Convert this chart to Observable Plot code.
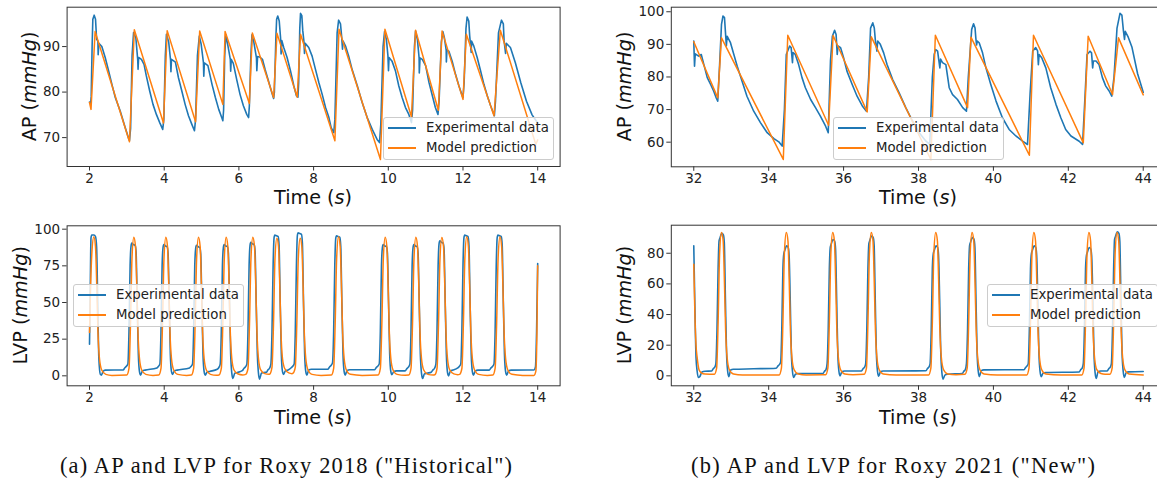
<!DOCTYPE html>
<html><head><meta charset="utf-8">
<script src="https://cdn.jsdelivr.net/npm/d3@7"></script>
<script src="https://cdn.jsdelivr.net/npm/@observablehq/plot@0.6"></script>
<style>
html,body{margin:0;padding:0;background:#fff;overflow:hidden;width:1157px;height:483px;}
#page{position:relative;width:1157px;height:483px;overflow:hidden;background:#fff;}
.legend{position:absolute;box-sizing:border-box;border:1px solid #cccccc;border-radius:3px;background:rgba(255,255,255,0.8);font-family:"DejaVu Sans";font-size:13.3px;color:#222;}
.legend .h{position:absolute;height:2px;width:28px;}
.legend .t{position:absolute;white-space:nowrap;line-height:16px;}
</style></head><body><div id="page"></div>
<script>
// ---------- DATA ----------
const seriesNames = ["Experimental data", "Model prediction"];
const captionA = '(a) AP and LVP for Roxy 2018 ("Historical")';
const captionB = '(b) AP and LVP for Roxy 2021 ("New")';
const xTicksA = [2,4,6,8,10,12,14];
const xTicksB = [32,34,36,38,40,42,44];
const apTicksA = [70,80,90];
const lvpTicksA = [0,25,50,75,100];
const apTicksB = [60,70,80,90,100];
const lvpTicksB = [0,20,40,60,80];

// AP, Roxy 2018 – experimental [time s, mmHg]
const apExpA = [
[2.0,77.8],[2.03,77.5],[2.045,79],[2.07,90],[2.089,96],[2.125,96.9],[2.161,96],[2.19,91.6],[2.225,91.2],[2.232,88.2],[2.25,90.7],[2.33,90],[2.42,87.6],[2.51,84.7],[2.6,81.7],[2.69,78.8],[2.82,75.9],[2.955,72.2],[3.04,70],[3.07,69.4],
[3.1,72],[3.14,88],[3.18,93.1],[3.24,92],[3.29,87.2],[3.30,85],[3.315,87.6],[3.39,87.2],[3.46,86.1],[3.52,83.6],[3.61,80.3],[3.7,77.3],[3.79,75.1],[3.88,73.3],[3.96,71.8],
[3.99,74],[4.03,88],[4.06,92.7],[4.12,91],[4.17,87],[4.18,84.5],[4.195,87.2],[4.3,86.6],[4.38,83.2],[4.47,80.3],[4.56,77.3],[4.65,74.8],[4.74,72.9],[4.81,71.5],
[4.84,74],[4.89,88],[4.94,92.3],[4.99,90.5],[5.05,86.5],[5.06,83.5],[5.075,86.4],[5.17,85.8],[5.28,81.7],[5.37,78.8],[5.46,76.2],[5.54,74.4],[5.57,73.7],
[5.59,76],[5.62,88],[5.65,92.6],[5.7,90.5],[5.77,87.2],[5.78,84.6],[5.795,87.2],[5.85,86.3],[5.94,82.8],[6.03,79.5],[6.12,77],[6.21,75.1],[6.26,74.4],
[6.28,77],[6.32,88],[6.35,92.6],[6.4,91],[6.47,87.5],[6.48,84.7],[6.5,87.8],[6.56,87.7],[6.63,87.2],[6.7,85],[6.79,82.5],[6.88,79.9],[6.93,78.6],
[6.95,80],[6.99,92],[7.01,96],[7.04,96.7],[7.08,95.6],[7.115,92],[7.13,88.4],[7.15,91.3],[7.2,89.8],[7.29,87.6],[7.38,84.7],[7.47,81.4],[7.54,79.2],[7.58,78.9],
[7.6,82],[7.63,94],[7.65,97.3],[7.685,96.8],[7.71,93.5],[7.74,91.2],[7.756,88.5],[7.775,90.7],[7.87,89.8],[7.96,87.9],[8.05,85],[8.14,82.1],[8.23,79.5],[8.32,76.6],[8.41,74.4],[8.47,72.2],[8.54,71.1],
[8.57,74],[8.63,93],[8.67,95.8],[8.72,95],[8.75,92.3],[8.774,89.4],[8.79,91.2],[8.855,90.1],[8.94,87.9],[9.03,85],[9.17,81.4],[9.3,77.7],[9.435,74.4],[9.57,71.8],[9.7,69.6],[9.765,68.9],
[9.8,73],[9.86,90],[9.9,93.3],[9.95,91.5],[9.99,88],[10.005,84.7],[10.02,87.6],[10.1,86.8],[10.19,84.7],[10.28,81.4],[10.37,78.8],[10.46,76.6],[10.55,75.1],[10.62,73.3],
[10.65,76],[10.7,90],[10.73,93.4],[10.78,91.5],[10.825,87.5],[10.83,84.2],[10.85,87.5],[10.91,87.2],[11.0,85.8],[11.09,82.1],[11.18,79.2],[11.26,76.6],[11.33,75.1],
[11.36,78],[11.42,91],[11.46,93.3],[11.5,92],[11.55,89.2],[11.555,86.6],[11.57,89.2],[11.62,89],[11.71,86.8],[11.8,83.9],[11.89,81.4],[11.98,79.2],[12.0,78.8],
[12.03,82],[12.08,94],[12.11,96.5],[12.155,95.6],[12.18,92.3],[12.22,88.7],[12.23,91.2],[12.29,90.1],[12.38,87.6],[12.47,84.7],[12.56,81.7],[12.65,79.2],[12.74,77],[12.84,74.8],
[12.87,78],[12.95,93],[13.03,95.8],[13.08,95],[13.1,91.3],[13.14,88.5],[13.16,90.7],[13.27,89.8],[13.4,86.5],[13.55,82],[13.7,78],[13.85,75],[14.0,73.2]
];
// AP, Roxy 2018 – model
const apModA = [
[2.0,77.7],[2.04,76.2],[2.15,93.3],[3.07,69.1],[3.2,93.7],[3.98,73.2],[4.08,93.5],[4.84,73.5],[4.95,93.4],[5.57,77.3],[5.63,93.3],[6.28,77.5],[6.36,93],[6.93,78.8],[7.02,92.9],[7.56,78.9],[7.65,92.7],[8.57,69.3],[8.68,93.8],[9.79,65.2],[9.91,93.8],[10.62,74.6],[10.73,93.6],[11.34,76],[11.44,93.4],[12.0,78.4],[12.09,92.7],[12.83,74.8],[13.0,93.6],[13.95,68.5],[14.0,69.5]
];
// LVP, Roxy 2018 – experimental
const lvpExpA = [
[2.0,21.6],[2.02,60],[2.04,94],[2.06,96],[2.12,96],[2.16,95],[2.19,88],[2.22,50],[2.25,12],[2.29,1],[2.32,0.5],[2.36,3],[2.42,3.9],[2.9,4],
[2.947,5.5],[2.987,6.5],[3.027,8],[3.057,30],[3.087,75],[3.112,88.5],[3.132,90.5],[3.177,89.5],[3.222,89],[3.247,84.5],[3.277,50],[3.307,15],[3.337,3],[3.367,0.5],[3.417,3.4],[3.487,3.9],
[3.804,5.4],[3.844,6.4],[3.884,8],[3.914,30],[3.944,75],[3.969,87.5],[3.989,89.5],[4.034,88.5],[4.079,88],[4.104,83.5],[4.134,50],[4.164,15],[4.194,3],[4.224,1],[4.274,3.4],[4.344,3.9],
[4.678,5.4],[4.718,6.4],[4.758,8],[4.788,30],[4.818,75],[4.843,87],[4.863,89],[4.908,88],[4.953,87.5],[4.978,83],[5.008,50],[5.038,15],[5.068,3],[5.098,0.5],[5.148,2.5],[5.218,3],
[5.419,4.5],[5.459,5.5],[5.499,8],[5.529,30],[5.559,75],[5.584,87.5],[5.604,89.5],[5.649,88.5],[5.694,88],[5.719,83.5],[5.749,50],[5.779,15],[5.809,2],[5.839,-1.8],[5.889,1.8],[5.959,2.3],[6.09,3.5],
[6.133,5],[6.173,6],[6.213,8],[6.243,30],[6.273,75],[6.298,89],[6.318,91],[6.363,90],[6.408,89.5],[6.433,85],[6.463,50],[6.493,15],[6.523,2],[6.553,-2.3],[6.603,1.8],[6.673,2.3],[6.74,2.5],
[6.776,4],[6.816,5],[6.856,8],[6.886,30],[6.916,75],[6.941,94],[6.961,96],[7.006,95.5],[7.051,95],[7.076,89],[7.106,50],[7.136,15],[7.166,3],[7.196,1],[7.246,3.5],[7.316,4],
[7.4,5.5],[7.44,6.5],[7.48,8],[7.51,30],[7.54,75],[7.565,95.5],[7.585,97.5],[7.63,97],[7.675,96.5],[7.7,90.5],[7.73,50],[7.76,15],[7.79,3],[7.82,0.5],[7.87,4],[7.94,4.5],[8.38,4.5],
[8.427,6],[8.467,7],[8.507,9],[8.537,30],[8.567,75],[8.592,93.5],[8.612,95.5],[8.657,95],[8.702,94.5],[8.727,88.5],[8.757,50],[8.787,15],[8.817,3],[8.847,0.5],[8.897,3.6],[8.967,4.1],[9.63,4.1],
[9.677,5.6],[9.717,6.6],[9.757,8],[9.787,30],[9.817,75],[9.842,87.5],[9.862,89.5],[9.907,88.5],[9.952,88],[9.977,83.5],[10.007,50],[10.037,15],[10.067,3],[10.097,0.8],[10.147,3],[10.217,3.4],[10.45,3.4],
[10.498,4.9],[10.538,5.9],[10.578,8],[10.608,30],[10.638,75],[10.663,87.5],[10.683,89.5],[10.728,88.5],[10.773,88],[10.798,83.5],[10.828,50],[10.858,15],[10.888,2],[10.918,-1.8],[10.968,1.3],[11.038,1.8],[11.15,2.5],
[11.194,4],[11.234,5],[11.274,8],[11.304,30],[11.334,75],[11.359,90],[11.379,92],[11.424,91],[11.469,90.5],[11.494,86],[11.524,50],[11.554,15],[11.584,2.5],[11.614,0],[11.664,3.4],[11.734,3.9],
[11.86,5.4],[11.9,6.4],[11.94,8],[11.97,30],[12.0,75],[12.025,94],[12.045,96],[12.09,95.5],[12.135,95],[12.16,89],[12.19,50],[12.22,15],[12.25,3],[12.28,0.5],[12.33,3.4],[12.4,3.9],[12.7,3.9],
[12.75,5.4],[12.79,6.4],[12.83,8],[12.86,30],[12.89,75],[12.915,94],[12.935,96],[12.98,95.5],[13.025,95],[13.05,89],[13.08,50],[13.11,15],[13.14,3],[13.17,0.5],[13.22,3.4],[13.29,3.9],
[13.9,4],[13.94,6],[13.97,30],[14.0,76.5]
];
// LVP, Roxy 2018 – model
const lvpModA = [
[2.0,29.6],[2.03,62],[2.066,85],[2.116,94.8],[2.16,88],[2.196,60],[2.226,30],[2.266,12],[2.326,4],[2.436,1],[2.6,0.3],
[2.997,0.5],[3.057,5],[3.097,35],[3.137,80],[3.187,94.5],[3.232,88],[3.267,60],[3.297,30],[3.337,12],[3.397,4],[3.507,1],[3.7,0.3],
[3.854,0.5],[3.914,5],[3.954,35],[3.994,80],[4.044,94.5],[4.089,88],[4.124,60],[4.154,30],[4.194,12],[4.254,4],[4.364,1],[4.6,0.3],
[4.728,0.5],[4.788,5],[4.828,35],[4.868,80],[4.918,94.5],[4.963,88],[4.998,60],[5.028,30],[5.068,12],[5.128,4],[5.238,1],[5.4,0.4],
[5.469,0.6],[5.529,5],[5.569,35],[5.609,80],[5.659,94.5],[5.704,88],[5.739,60],[5.769,30],[5.809,12],[5.869,4],[5.979,1.2],[6.1,0.6],
[6.183,1],[6.243,5],[6.283,35],[6.323,80],[6.373,94.5],[6.418,88],[6.453,60],[6.483,30],[6.523,12],[6.583,4],[6.693,1.5],[6.8,1],
[6.826,1.2],[6.886,6],[6.926,35],[6.966,80],[7.016,93.8],[7.061,88],[7.096,60],[7.126,30],[7.166,12],[7.226,5],[7.336,2],[7.42,1.5],
[7.45,1.8],[7.51,6],[7.55,35],[7.59,80],[7.64,93.8],[7.685,88],[7.72,60],[7.75,30],[7.79,12],[7.85,4],[7.96,1],[8.2,0.3],
[8.477,0.5],[8.537,5],[8.577,35],[8.617,80],[8.667,94.8],[8.712,88],[8.747,60],[8.777,30],[8.817,12],[8.877,4],[8.987,1],[9.3,0.3],
[9.727,0.5],[9.787,5],[9.827,35],[9.867,80],[9.917,94.5],[9.962,88],[9.997,60],[10.027,30],[10.067,12],[10.127,4],[10.237,1],[10.45,0.4],
[10.548,0.5],[10.608,5],[10.648,35],[10.688,80],[10.738,94.5],[10.783,88],[10.818,60],[10.848,30],[10.888,12],[10.948,4],[11.058,1],[11.2,0.5],
[11.244,0.7],[11.304,5],[11.344,35],[11.384,80],[11.434,94.3],[11.479,88],[11.514,60],[11.544,30],[11.584,12],[11.644,4],[11.754,1.3],[11.86,0.8],
[11.91,1],[11.97,5],[12.01,35],[12.05,80],[12.1,94.8],[12.145,88],[12.18,60],[12.21,30],[12.25,12],[12.31,4],[12.42,1],[12.65,0.3],
[12.8,0.5],[12.86,5],[12.9,35],[12.94,80],[12.99,94.8],[13.035,88],[13.07,60],[13.1,30],[13.14,12],[13.2,4],[13.31,1],[13.6,0.3],
[13.9,0.3],[13.95,3],[13.98,30],[14.0,75]
];
// AP, Roxy 2021 – experimental
const apExpB = [
[32.0,91],[32.02,83.3],[32.04,87.1],[32.13,86.4],[32.2,86.9],[32.27,83.8],[32.36,79.8],[32.45,77.7],[32.53,75.7],[32.6,73.6],[32.64,72.6],
[32.69,83.8],[32.74,96.1],[32.78,98.7],[32.82,98.2],[32.85,93],[32.87,89.5],[32.89,92.5],[32.98,90.5],[33.07,86.9],[33.16,83.3],[33.29,78.7],[33.42,74.1],[33.6,69.5],[33.78,66],[33.96,62.9],[34.14,61.1],[34.27,60.1],[34.36,58.8],
[34.42,70],[34.47,86.9],[34.56,89.5],[34.6,89],[34.635,84.4],[34.65,87.5],[34.71,86.9],[34.8,83.8],[34.89,79.8],[34.98,76.7],[35.12,73.1],[35.25,70.6],[35.38,68],[35.52,64.9],[35.59,62.9],
[35.65,85],[35.7,92.5],[35.76,94.3],[35.8,93],[35.83,86.9],[35.85,89.5],[35.92,89],[36.0,85.9],[36.09,81.8],[36.23,77.7],[36.36,74.1],[36.5,71.1],[36.61,69.5],
[36.67,80],[36.72,95],[36.78,96.6],[36.82,95],[36.85,91],[36.89,87.9],[36.91,91],[36.98,90],[37.07,87.4],[37.16,83.8],[37.31,79.2],[37.48,75.2],[37.66,70.6],[37.84,66.5],[38.02,62.9],[38.2,60.3],[38.3,59.3],
[38.37,80],[38.42,87],[38.46,88.4],[38.51,87.9],[38.57,82.8],[38.59,85.5],[38.64,84.4],[38.73,83.8],[38.82,76.7],[38.91,74.6],[39.04,73.1],[39.18,70.6],[39.28,69.5],
[39.33,80],[39.42,94.6],[39.47,96.3],[39.51,95],[39.53,92],[39.55,89.8],[39.57,91],[39.62,90.5],[39.71,87.4],[39.8,82.8],[39.93,77.7],[40.07,72.6],[40.24,67.5],[40.42,63.9],[40.6,61.9],[40.78,60.3],[40.91,59.3],
[40.98,75],[41.05,88],[41.13,89],[41.18,88],[41.2,83.8],[41.22,86.9],[41.29,85.9],[41.4,82.8],[41.53,76.7],[41.67,71.6],[41.8,67.5],[41.93,63.9],[42.07,61.9],[42.29,60.3],[42.38,59.3],
[42.45,75],[42.5,86.9],[42.58,87.9],[42.62,87.4],[42.65,82.8],[42.67,84.9],[42.74,84.9],[42.82,83.8],[42.91,79.8],[43.0,77.2],[43.09,75.7],[43.16,74.1],
[43.22,80],[43.3,95],[43.38,99.5],[43.43,99],[43.47,94.3],[43.5,91.5],[43.52,94],[43.6,92.2],[43.7,89.1],[43.85,81],[44.0,75.3]
];
// AP, Roxy 2021 – model
const apModB = [
[32.0,90.8],[32.64,73.6],[32.74,92.0],[34.39,54.7],[34.51,92.8],[35.6,65.2],[35.72,92.7],[36.63,69.3],[36.74,92.3],[38.33,54.7],[38.45,92.8],[39.31,70.6],[39.4,92.2],[40.96,56],[41.07,92.8],[42.4,59.8],[42.53,92.5],[43.18,74.6],[43.34,92],[44.0,74.5]
];
// LVP, Roxy 2021 – experimental
const lvpExpB = [
[32.0,84.8],[32.03,45],[32.06,12],[32.09,3],[32.12,-1],[32.16,-0.5],[32.22,2.5],[32.3,3],[32.48,3.2],
[32.52,4.7],[32.56,5.7],[32.59,8],[32.62,30],[32.65,70],[32.675,88],[32.7,90],[32.75,93],[32.79,92],[32.815,87],[32.845,50],[32.875,15],[32.905,3],[32.935,-0.5],[32.985,3.8],[33.055,4.3],[33.6,4.6],[34.2,5],
[34.25,6.5],[34.29,7.5],[34.32,9],[34.35,30],[34.38,70],[34.405,79.8],[34.43,81.8],[34.48,84.8],[34.52,83.8],[34.545,78.8],[34.575,50],[34.605,15],[34.635,3],[34.665,-1],[34.715,1],[34.785,1.5],[35.45,1.5],
[35.49,3],[35.53,4],[35.56,8],[35.59,30],[35.62,70],[35.645,84],[35.67,86],[35.72,89],[35.76,88],[35.785,83],[35.815,50],[35.845,15],[35.875,3],[35.905,0],[35.955,2.7],[36.025,3.2],[36.48,3.2],
[36.52,4.7],[36.56,5.7],[36.59,8],[36.62,30],[36.65,70],[36.675,86.3],[36.7,88.3],[36.75,91.3],[36.79,90.3],[36.815,85.3],[36.845,50],[36.875,15],[36.905,3],[36.935,-0.3],[36.985,2.7],[37.055,3.2],[38.2,3.3],
[38.24,4.8],[38.28,5.8],[38.31,8],[38.34,30],[38.37,70],[38.395,79.8],[38.42,81.8],[38.47,84.8],[38.51,83.8],[38.535,78.8],[38.565,50],[38.595,15],[38.625,2],[38.655,-2.2],[38.705,0.5],[38.775,1],[39.17,1.5],
[39.21,3],[39.25,4],[39.28,8],[39.31,30],[39.34,70],[39.365,85.2],[39.39,87.2],[39.44,90.2],[39.48,89.2],[39.505,84.2],[39.535,50],[39.565,15],[39.595,3],[39.625,-0.5],[39.675,3.4],[39.745,3.9],[40.82,4],
[40.86,5.5],[40.9,6.5],[40.93,8],[40.96,30],[40.99,70],[41.015,79.8],[41.04,81.8],[41.09,84.8],[41.13,83.8],[41.155,78.8],[41.185,50],[41.215,15],[41.245,3],[41.275,-0.5],[41.325,1.7],[41.395,2.2],[42.29,2.5],
[42.33,4],[42.37,5],[42.4,8],[42.43,30],[42.46,70],[42.485,78.7],[42.51,80.7],[42.56,83.7],[42.6,82.7],[42.625,77.7],[42.655,50],[42.685,15],[42.715,2],[42.745,-1.7],[42.795,2.7],[42.865,3.2],[43.04,3.2],
[43.08,4.7],[43.12,5.7],[43.15,8],[43.18,30],[43.21,70],[43.235,89],[43.26,91],[43.31,94],[43.35,93],[43.375,88],[43.405,50],[43.435,15],[43.465,3],[43.495,-1],[43.545,2.1],[43.615,2.6],[44.0,2.8]
];
// LVP, Roxy 2021 – model
const lvpModB = [
[32.0,72.8],[32.03,40],[32.06,20],[32.09,12],[32.14,4],[32.2,2],[32.3,1.2],
[32.55,1],[32.61,5],[32.65,35],[32.69,80],[32.74,93.5],[32.785,88],[32.82,60],[32.85,30],[32.89,12],[32.95,4],[33.06,1.2],[33.3,0.6],
[34.28,0.6],[34.34,5],[34.38,35],[34.42,80],[34.47,93.5],[34.515,88],[34.55,60],[34.58,30],[34.62,12],[34.68,4],[34.79,1.2],[35.0,0.6],
[35.52,0.7],[35.58,5],[35.62,35],[35.66,80],[35.71,93.5],[35.755,88],[35.79,60],[35.82,30],[35.86,12],[35.92,4],[36.03,1.2],[36.25,0.7],
[36.55,1],[36.61,5],[36.65,35],[36.69,80],[36.74,93.5],[36.785,88],[36.82,60],[36.85,30],[36.89,12],[36.95,4],[37.06,1.2],[37.4,0.6],
[38.27,0.6],[38.33,5],[38.37,35],[38.41,80],[38.46,93.5],[38.505,88],[38.54,60],[38.57,30],[38.61,12],[38.67,4],[38.78,1.2],[39.0,0.7],
[39.24,1],[39.3,5],[39.34,35],[39.38,80],[39.43,93.5],[39.475,88],[39.51,60],[39.54,30],[39.58,12],[39.64,4],[39.75,1.2],[40.1,0.6],
[40.89,0.6],[40.95,5],[40.99,35],[41.03,80],[41.08,93.5],[41.125,88],[41.16,60],[41.19,30],[41.23,12],[41.29,4],[41.4,1.2],[41.8,0.6],
[42.36,0.6],[42.42,5],[42.46,35],[42.5,80],[42.55,93.5],[42.595,88],[42.63,60],[42.66,30],[42.7,12],[42.76,4],[42.87,1.5],[42.98,1],
[43.11,1],[43.17,5],[43.21,35],[43.25,80],[43.3,93.5],[43.345,88],[43.38,60],[43.41,30],[43.45,12],[43.51,4],[43.62,1.2],[44.0,0.6]
];

// ---------- RENDERING ----------
const BLUE = "#1f77b4", ORANGE = "#ff7f0e";
const page = document.getElementById("page");

function panel(o) {
  const svg = Plot.plot({
    width: o.width, height: o.height,
    marginLeft: o.ml, marginRight: o.mr, marginTop: o.mt, marginBottom: o.mb,
    x: {domain: o.xDomain},
    y: {domain: o.yDomain},
    style: {fontFamily: "DejaVu Sans", fontSize: "13.5px", color: "#222", background: "transparent", overflow: "visible"},
    marks: [
      Plot.line(o.exp, {x: d => d[0], y: d => d[1], stroke: BLUE, strokeWidth: 1.6, curve: o.curve, clip: true, strokeLinejoin: "round"}),
      Plot.line(o.mod, {x: d => d[0], y: d => d[1], stroke: ORANGE, strokeWidth: 1.5, curve: o.curve, clip: true, strokeLinejoin: "round"}),
      Plot.frame({stroke: "#333", strokeWidth: 1}),
      Plot.axisX({ticks: o.xTicks, tickSize: 4.5, tickPadding: 2.5, label: null, stroke: "#333"}),
      Plot.axisY({ticks: o.yTicks, tickSize: 4.5, tickPadding: 2.5, label: null, stroke: "#333"})
    ]
  });
  svg.style.position = "absolute";
  svg.style.left = o.left + "px";
  svg.style.top = o.top + "px";
  svg.style.maxWidth = "none";
  page.appendChild(svg);
}

panel({left: 0, top: 0, width: 580, height: 215, ml: 66.6, mr: 20.4, mt: 6.7, mb: 49,
  xDomain: [1.4, 14.6], yDomain: [63.65, 98.65], xTicks: xTicksA, yTicks: apTicksA,
  exp: apExpA, mod: apModA, curve: "linear"});
panel({left: 0, top: 215, width: 580, height: 215, ml: 66.6, mr: 20.4, mt: 10.3, mb: 44.7,
  xDomain: [1.4, 14.6], yDomain: [-6.8, 102.3], xTicks: xTicksA, yTicks: lvpTicksA,
  exp: lvpExpA, mod: lvpModA, curve: "monotone-x"});
panel({left: 590, top: 0, width: 600, height: 215, ml: 80.8, mr: 24.8, mt: 6.7, mb: 48.7,
  xDomain: [31.4, 44.6], yDomain: [52.45, 101.4], xTicks: xTicksB, yTicks: apTicksB,
  exp: apExpB, mod: apModB, curve: "linear"});
panel({left: 590, top: 215, width: 600, height: 215, ml: 80.8, mr: 24.8, mt: 9.7, mb: 44.7,
  xDomain: [31.4, 44.6], yDomain: [-6.5, 98.3], xTicks: xTicksB, yTicks: lvpTicksB,
  exp: lvpExpB, mod: lvpModB, curve: "monotone-x"});

// legends
function legend(left, top, width, height) {
  const box = document.createElement("div");
  box.className = "legend";
  Object.assign(box.style, {left: left + "px", top: top + "px", width: width + "px", height: height + "px"});
  [[seriesNames[0], BLUE], [seriesNames[1], ORANGE]].forEach(([name, col], i) => {
    const cy = 10 + i * 20;
    const h = document.createElement("div");
    h.className = "h";
    Object.assign(h.style, {left: "4px", top: (cy - 1) + "px", backgroundColor: col});
    const t = document.createElement("div");
    t.className = "t";
    Object.assign(t.style, {left: "42px", top: (cy - 8) + "px"});
    t.textContent = name;
    box.appendChild(h); box.appendChild(t);
  });
  page.appendChild(box);
}
legend(383, 117, 171, 43);
legend(833, 117, 171, 43);
legend(73, 284, 171, 43);
legend(987, 284, 171, 43);

// axis titles and captions
const ov = d3.create("svg").attr("width", 1157).attr("height", 483)
  .style("position", "absolute").style("left", "0px").style("top", "0px").style("pointer-events", "none");
function rich(parts, attrs) {
  const t = ov.append("text");
  Object.entries(attrs).forEach(([k, v]) => t.attr(k, v));
  parts.forEach(([s, it]) => t.append("tspan").attr("font-style", it ? "italic" : null).text(s));
  return t;
}
const titleFont = {"font-family": "DejaVu Sans", "font-size": "19.2px", fill: "#111", "text-anchor": "middle"};
[[29, 86.4, "AP ("], [20, 305.3, "LVP ("], [624, 86.5, "AP ("], [624, 305, "LVP ("]].forEach(([x, y, s]) =>
  rich([[s, false], ["mmHg", true], [")", false]], {...titleFont, transform: `translate(${x},${y}) rotate(-90)`, dy: "0.35em"}));
[[313.1, 204], [313.1, 424], [918, 204], [918, 424]].forEach(([x, y]) =>
  rich([["Time (", false], ["s", true], [")", false]], {...titleFont, x, y}));
const capFont = {"font-family": "Liberation Serif", "font-size": "22.4px", fill: "#111"};
rich([[captionA, false]], {...capFont, x: 60, y: 473, textLength: 452, lengthAdjust: "spacing"});
rich([[captionB, false]], {...capFont, x: 691, y: 473, textLength: 404, lengthAdjust: "spacing"});
page.appendChild(ov.node());
</script></body></html>
